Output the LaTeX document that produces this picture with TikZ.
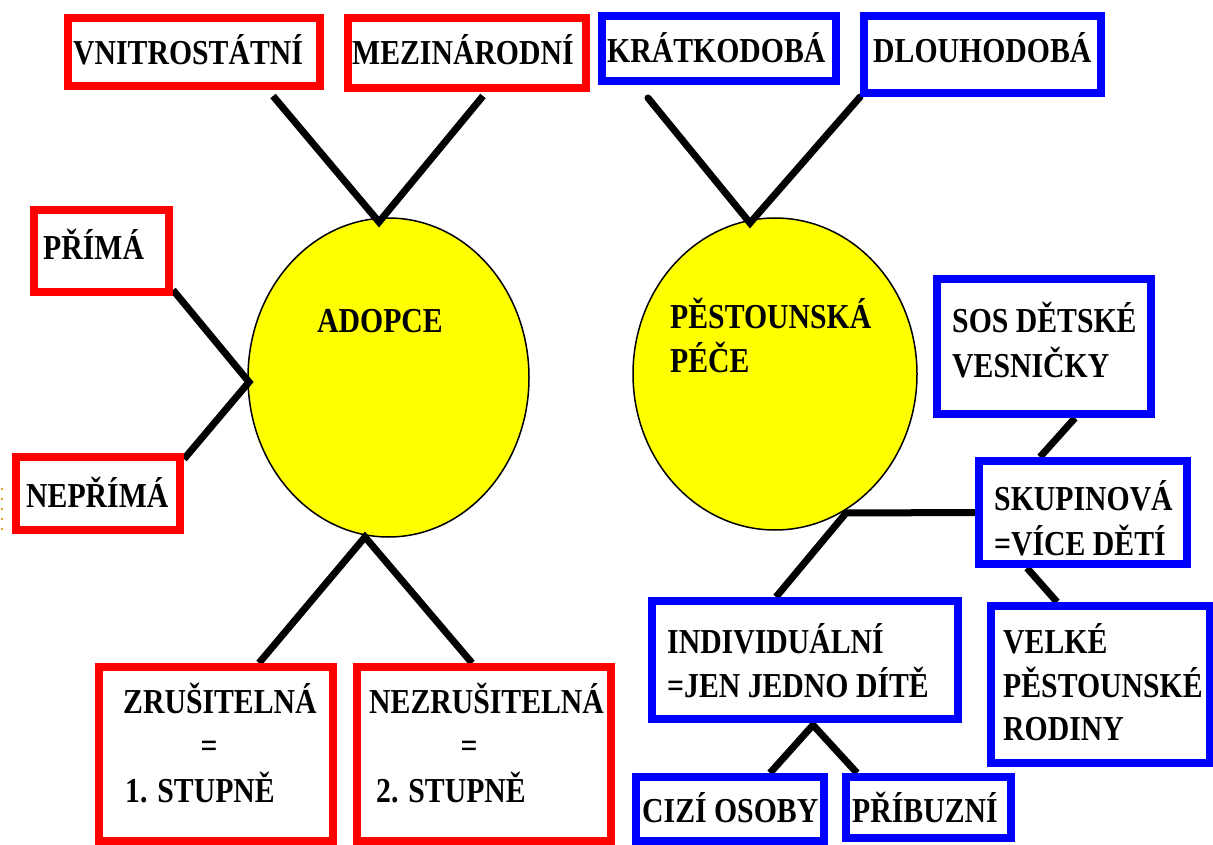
\documentclass[tikz,border=0pt]{standalone}
\usepackage{fontspec}
\setmainfont{Liberation Serif}[FakeStretch=0.85]
\usetikzlibrary{shapes.geometric}
\definecolor{pureyellow}{RGB}{255,255,0}
\definecolor{dotorange}{RGB}{230,160,40}
\pgfdeclarelayer{bg}
\pgfdeclarelayer{mid}
\pgfsetlayers{bg,mid,main}
\begin{document}
\begin{tikzpicture}[x=1pt,y=-1pt,
  rbox/.style={rectangle,draw=red,line width=8pt,fill=white,inner sep=0pt},
  bbox/.style={rectangle,draw=blue,line width=8pt,fill=white,inner sep=0pt},
  oval/.style={ellipse,draw=black,line width=1.5pt,fill=pureyellow,inner sep=0pt},
  conn/.style={line width=7pt,draw=black},
  txt/.style={anchor=base west,inner sep=0pt,font=\fontsize{35}{44}\selectfont\bfseries},
  ctxt/.style={txt,anchor=base}]
\useasboundingbox (0,0) rectangle (1213,845);

% background and ellipses
\begin{pgfonlayer}{bg}
\fill[white] (0,0) rectangle (1213,845);
\draw[dotorange,line width=2pt,dash pattern=on 2pt off 8pt] (1.5,488) -- (1.5,535);
\node[oval,minimum width=281pt,minimum height=319pt] (adopce) at (388.5,377.5) {};
\node[oval,minimum width=284pt,minimum height=312pt] (pece) at (775,374) {};
\end{pgfonlayer}

% boxes
\node[rbox,minimum width=252pt,minimum height=68pt] (v) at (194,52) {};
\node[rbox,minimum width=238pt,minimum height=70pt] (m) at (467,53) {};
\node[bbox,minimum width=234pt,minimum height=65pt] (k) at (719,48.5) {};
\node[bbox,minimum width=237pt,minimum height=77pt] (d) at (982.5,54.5) {};
\node[rbox,minimum width=135pt,minimum height=82pt] (p) at (101.5,251) {};
\node[rbox,minimum width=164pt,minimum height=73pt] (n) at (98,493.5) {};
\node[rbox,minimum width=234pt,minimum height=174pt] (z) at (216,754) {};
\node[rbox,minimum width=254pt,minimum height=174pt] (nz) at (484,754) {};
\node[bbox,minimum width=214pt,minimum height=135pt] (sos) at (1044,346.5) {};
\node[bbox,minimum width=208pt,minimum height=103pt] (sk) at (1083,512.5) {};
\node[bbox,minimum width=219pt,minimum height=157pt] (vel) at (1100.5,684.5) {};
\node[bbox,minimum width=306pt,minimum height=118pt] (ind) at (805,660) {};
\node[bbox,minimum width=188pt,minimum height=64pt] (ci) at (730,809) {};
\node[bbox,minimum width=165pt,minimum height=61pt] (pr) at (928.5,807.5) {};

% junction points
\coordinate (adT) at (379,222);
\coordinate (adL) at (249,382);
\coordinate (adB) at (365,537);
\coordinate (peT) at (750,223);
\coordinate (peJ) at (846,513);
\coordinate (indB) at (813,725);

% connectors
\begin{pgfonlayer}{mid}
\draw[conn] ([xshift=79pt,yshift=-6pt]v.south) -- (adT) -- ([xshift=16pt,yshift=-4pt]m.south);
\draw[conn,line cap=round] ([xshift=-71pt,yshift=-13pt]k.south) -- (peT) -- (d.south west);
\draw[conn] ([yshift=6pt]p.south east) -- (adL) -- ([yshift=-6pt]n.north east);
\draw[conn] ([xshift=43pt]z.north) -- (adB) -- ([xshift=-12pt]nz.north);
\draw[conn] (sk.west) -- (peJ) -- ([xshift=-29pt]ind.north);
\draw[conn] ([xshift=31pt]sos.south) -- ([xshift=-43pt]sk.north);
\draw[conn] ([xshift=-56pt]sk.south) -- ([xshift=-43.5pt]vel.north);
\draw[conn] ([xshift=40pt]ci.north) -- (indB) -- ([xshift=-71.5pt]pr.north);
\end{pgfonlayer}

% texts
\node[txt] (tv) at (73,65) {VNITROSTÁTNÍ};
\node[txt] (tm) at (352,65) {MEZINÁRODNÍ};
\node[txt] (tk) at (607,63) {KRÁTKODOBÁ};
\node[txt] (td) at (873,63) {DLOUHODOBÁ};
\node[txt] (tp) at (43,260) {PŘÍMÁ};
\node[txt] (tn) at (26,507) {NEPŘÍMÁ};
\node[txt] (tad) at (317,332) {ADOPCE};
\node[txt] (tpe1) at (670,328) {PĚSTOUNSKÁ};
\node[txt] (tpe2) at (670,372) {PÉČE};
\node[txt] (ts1) at (952,332) {SOS DĚTSKÉ};
\node[txt] (ts2) at (952,377) {VESNIČKY};
\node[txt] (tsk1) at (994,510) {SKUPINOVÁ};
\node[txt] (tsk2) at (994,555) {=VÍCE DĚTÍ};
\node[txt] (tve1) at (1003,653) {VELKÉ};
\node[txt] (tve2) at (1003,697) {PĚSTOUNSKÉ};
\node[txt] (tve3) at (1003,740) {RODINY};
\node[txt] (ti1) at (667,653) {INDIVIDUÁLNÍ};
\node[txt] (ti2) at (667,697) {=JEN JEDNO DÍTĚ};
\node[txt] (tci) at (642,822) {CIZÍ OSOBY};
\node[txt] (tpr) at (852,822) {PŘÍBUZNÍ};
\node[txt] (tz1) at (123,713) {ZRUŠITELNÁ};
\node[ctxt] (tz2) at (209,757) {=};
\node[txt] (tz3) at (125,802) {1. STUPNĚ};
\node[txt] (tnz1) at (369,713) {NEZRUŠITELNÁ};
\node[ctxt] (tnz2) at (469,757) {=};
\node[txt] (tnz3) at (376,802) {2. STUPNĚ};
\end{tikzpicture}
\end{document}
